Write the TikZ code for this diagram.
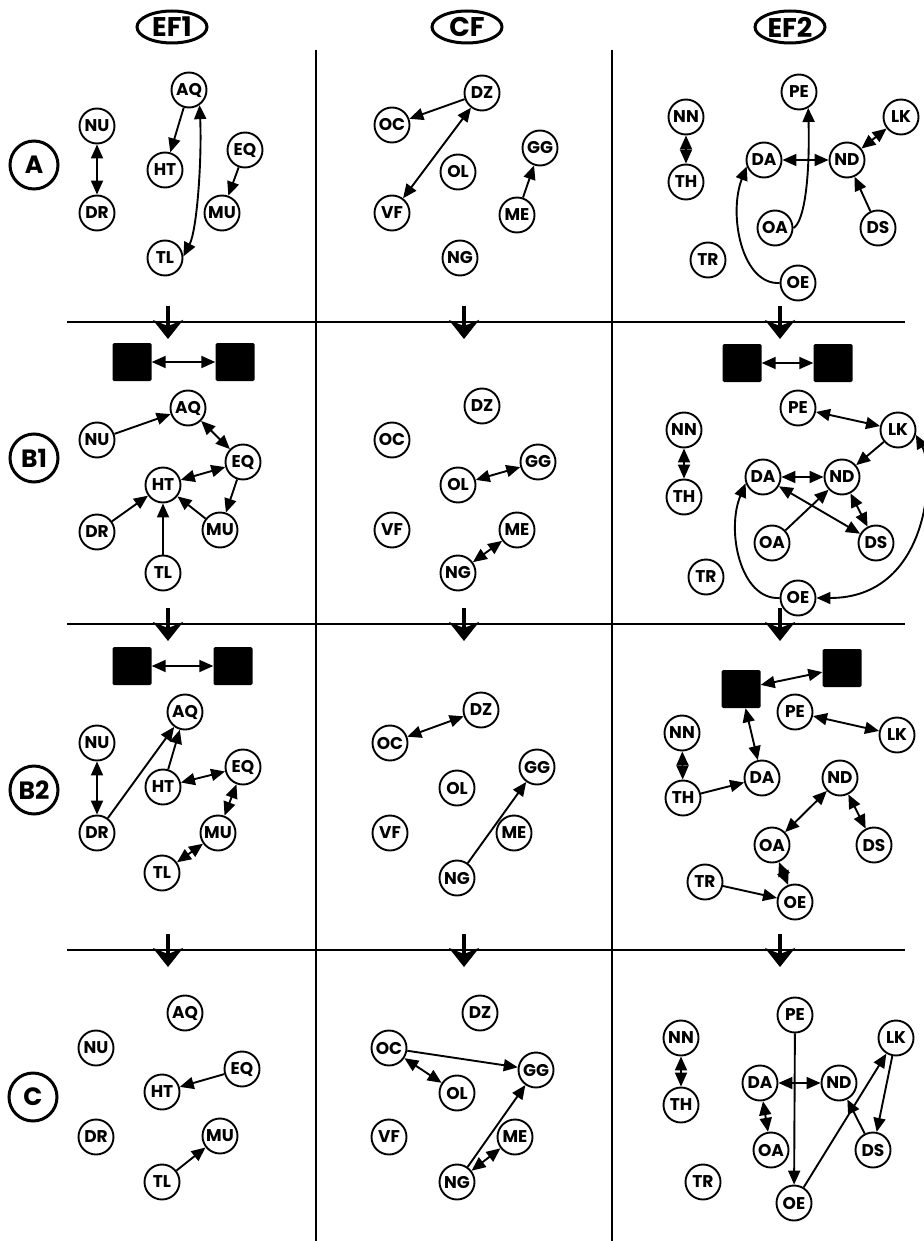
\documentclass[tikz,border=0pt]{standalone}
\usepackage{fontspec}
\setmainfont{Poppins}
\usetikzlibrary{arrows.meta,shapes.geometric}

\begin{document}
\begin{tikzpicture}[x=1pt, y=-1pt,
  stn/.style={circle, draw, line width=1.9pt, minimum size=35pt, inner sep=0pt,
    font=\bfseries\fontsize{17}{17}\selectfont},
  blk/.style={rectangle, fill=black, minimum width=39pt, minimum height=38pt,
    inner sep=0pt, rounded corners=1.5pt},
  hdr/.style={ellipse, draw, line width=3pt, minimum width=70pt, minimum height=32pt,
    inner sep=0pt, font=\bfseries\fontsize{27}{27}\selectfont},
  rowlbl/.style={circle, draw, line width=3pt, minimum size=48pt, inner sep=0pt,
    font=\bfseries\fontsize{25}{25}\selectfont},
  uni/.style={line width=1.9pt, -{Triangle[length=14pt,width=12pt]}},
  bi/.style={line width=1.9pt, {Triangle[length=14pt,width=12pt]}-{Triangle[length=14pt,width=12pt]}},
  sepline/.style={line width=1.9pt},
  dn/.style={line width=4.5pt, -{Stealth[length=19pt,width=30pt,inset=6pt]}},
]
\useasboundingbox (0,0) rectangle (923,1241);

% ---------- column headers and row labels ----------
\node[hdr] (hEF1) at (172,27) {EF1};
\node[hdr] (hCF)  at (467,27) {CF};
\node[hdr] (hEF2) at (790,27) {EF2};

\node[rowlbl] (rA)  at (34,165)  {A};
\node[rowlbl] (rB1) at (34,458)  {B1};
\node[rowlbl] (rB2) at (34,790)  {B2};
\node[rowlbl] (rC)  at (33,1097) {C};

% ---------- separating lines ----------
\coordinate (v1t) at (316,50);  \coordinate (v1b) at (316,1241);
\coordinate (v2t) at (612,50);  \coordinate (v2b) at (612,1241);
\draw[sepline] (v1t) -- (v1b);
\draw[sepline] (v2t) -- (v2b);
\foreach \yy in {322,624,950} {
  \draw[sepline] (67,\yy) -- (905,\yy);
  \foreach \xx in {168,464,780}
    \draw[dn] (\xx,\yy-16) -- (\xx,\yy+17);
}

% ================= row A =================
% EF1
\node[stn] (a1NU) at (97,126) {NU};
\node[stn] (a1DR) at (97,213) {DR};
\node[stn] (a1AQ) at (189,90) {AQ};
\node[stn] (a1HT) at (165,170) {HT};
\node[stn] (a1EQ) at (245,150) {EQ};
\node[stn] (a1MU) at (222,213) {MU};
\node[stn] (a1TL) at (165,258) {TL};
\draw[bi]  (a1NU) -- (a1DR);
\draw[uni] (a1AQ) -- (a1HT);
\draw[bi]  (a1AQ.-55) .. controls (202,160) and (197,230) .. (a1TL.5);
\draw[uni] (a1EQ) -- (a1MU);
% CF
\node[stn] (a2DZ) at (482,93) {DZ};
\node[stn] (a2OC) at (392,125) {OC};
\node[stn] (a2OL) at (458,172) {OL};
\node[stn] (a2GG) at (540,148) {GG};
\node[stn] (a2VF) at (392,213) {VF};
\node[stn] (a2ME) at (517,215) {ME};
\node[stn] (a2NG) at (460,258) {NG};
\draw[uni] (a2DZ) -- (a2OC);
\draw[bi]  (a2DZ) -- (a2VF);
\draw[uni] (a2ME) -- (a2GG);
% EF2
\node[stn] (a3PE) at (799,92) {PE};
\node[stn] (a3NN) at (686,117) {NN};
\node[stn] (a3LK) at (901,117) {LK};
\node[stn] (a3DA) at (764,160) {DA};
\node[stn] (a3ND) at (847,160) {ND};
\node[stn] (a3TH) at (686,182) {TH};
\node[stn] (a3OA) at (775,228) {OA};
\node[stn] (a3DS) at (878,228) {DS};
\node[stn] (a3TR) at (708,260) {TR};
\node[stn] (a3OE) at (798,283) {OE};
\draw[bi]  (a3NN) -- (a3TH);
\draw[bi]  (a3DA) -- (a3ND);
\draw[bi]  (a3ND) -- (a3LK);
\draw[uni] (a3DS) -- (a3ND);
\draw[uni] (a3OA.east) .. controls (804,222) and (810,180) .. (a3PE.-60);
\draw[uni] (a3OE.west) .. controls (742,285) and (728,215) .. (a3DA.200);

% ================= row B1 =================
% EF1
\node[blk] (b1sqL) at (132,362) {};
\node[blk] (b1sqR) at (235,362) {};
\draw[bi] (b1sqL) -- (b1sqR);
\node[stn] (b1NU) at (97,440) {NU};
\node[stn] (b1AQ) at (188,408) {AQ};
\node[stn] (b1EQ) at (243,462) {EQ};
\node[stn] (b1HT) at (163,485) {HT};
\node[stn] (b1DR) at (97,532) {DR};
\node[stn] (b1MU) at (220,530) {MU};
\node[stn] (b1TL) at (163,573) {TL};
\draw[uni] (b1NU) -- (b1AQ);
\draw[bi]  (b1AQ) -- (b1EQ);
\draw[bi]  (b1EQ) -- (b1HT);
\draw[uni] (b1EQ) -- (b1MU);
\draw[uni] (b1DR) -- (b1HT);
\draw[uni] (b1TL) -- (b1HT);
\draw[uni] (b1MU) -- (b1HT);
% CF
\node[stn] (b2DZ) at (482,406) {DZ};
\node[stn] (b2OC) at (392,440) {OC};
\node[stn] (b2GG) at (538,462) {GG};
\node[stn] (b2OL) at (458,485) {OL};
\node[stn] (b2VF) at (392,530) {VF};
\node[stn] (b2ME) at (517,530) {ME};
\node[stn] (b2NG) at (458,573) {NG};
\draw[bi] (b2OL) -- (b2GG);
\draw[bi] (b2NG) -- (b2ME);
% EF2
\node[blk] (b3sqL) at (742,363) {};
\node[blk] (b3sqR) at (833,363) {};
\draw[bi] (b3sqL) -- (b3sqR);
\node[stn] (b3PE) at (798,408) {PE};
\node[stn] (b3LK) at (898,430) {LK};
\node[stn] (b3NN) at (684,430) {NN};
\node[stn] (b3DA) at (763,477) {DA};
\node[stn] (b3ND) at (842,477) {ND};
\node[stn] (b3TH) at (684,497) {TH};
\node[stn] (b3OA) at (772,543) {OA};
\node[stn] (b3DS) at (876,543) {DS};
\node[stn] (b3TR) at (706,577) {TR};
\node[stn] (b3OE) at (798,598) {OE};
\draw[bi]  (b3PE) -- (b3LK);
\draw[uni] (b3LK) -- (b3ND);
\draw[bi]  (b3DA) -- (b3ND);
\draw[uni] (b3OA) -- (b3ND);
\draw[bi]  (b3DA) -- (b3DS);
\draw[bi]  (b3ND) -- (b3DS);
\draw[bi]  (b3NN) -- (b3TH);
\draw[uni] (b3OE.west) .. controls (740,600) and (726,530) .. (b3DA.200);
\draw[bi]  (b3LK.-15) .. controls (935,470) and (930,598) .. (b3OE.east);

% ================= row B2 =================
% EF1
\node[blk] (c1sqL) at (132,666) {};
\node[blk] (c1sqR) at (233,666) {};
\draw[bi] (c1sqL) -- (c1sqR);
\node[stn] (c1AQ) at (185,712) {AQ};
\node[stn] (c1NU) at (97,743) {NU};
\node[stn] (c1EQ) at (243,767) {EQ};
\node[stn] (c1HT) at (163,787) {HT};
\node[stn] (c1DR) at (97,833) {DR};
\node[stn] (c1MU) at (218,833) {MU};
\node[stn] (c1TL) at (162,873) {TL};
\draw[bi]  (c1NU) -- (c1DR);
\draw[uni] (c1DR) -- (c1AQ);
\draw[uni] (c1HT) -- (c1AQ);
\draw[bi]  (c1HT) -- (c1EQ);
\draw[bi]  (c1EQ) -- (c1MU);
\draw[bi]  (c1MU) -- (c1TL);
% CF
\node[stn] (c2DZ) at (481,710) {DZ};
\node[stn] (c2OC) at (390,743) {OC};
\node[stn] (c2GG) at (537,767) {GG};
\node[stn] (c2OL) at (457,788) {OL};
\node[stn] (c2VF) at (390,833) {VF};
\node[stn] (c2ME) at (514,833) {ME};
\node[stn] (c2NG) at (457,878) {NG};
\draw[bi]  (c2OC) -- (c2DZ);
\draw[uni] (c2NG) -- (c2GG);
% EF2
\node[blk] (c3sqL) at (741,689) {};
\node[blk] (c3sqR) at (842,668) {};
\node[stn] (c3PE) at (795,712) {PE};
\node[stn] (c3LK) at (897,735) {LK};
\node[stn] (c3NN) at (682,733) {NN};
\node[stn] (c3DA) at (762,778) {DA};
\node[stn] (c3ND) at (840,778) {ND};
\node[stn] (c3TH) at (683,798) {TH};
\node[stn] (c3OA) at (772,845) {OA};
\node[stn] (c3DS) at (874,845) {DS};
\node[stn] (c3TR) at (705,882) {TR};
\node[stn] (c3OE) at (795,902) {OE};
\draw[bi]  (c3sqL) -- (c3sqR);
\draw[bi]  (c3sqL) -- (c3DA);
\draw[bi]  (c3PE) -- (c3LK);
\draw[bi]  (c3NN) -- (c3TH);
\draw[uni] (c3TH) -- (c3DA);
\draw[bi]  (c3ND) -- (c3OA);
\draw[bi]  (c3ND) -- (c3DS);
\draw[bi]  (c3OA) -- (c3OE);
\draw[uni] (c3TR) -- (c3OE);

% ================= row C =================
% EF1
\node[stn] (d1AQ) at (185,1013) {AQ};
\node[stn] (d1NU) at (96,1048) {NU};
\node[stn] (d1EQ) at (242,1069) {EQ};
\node[stn] (d1HT) at (162,1092) {HT};
\node[stn] (d1DR) at (96,1137) {DR};
\node[stn] (d1MU) at (220,1136) {MU};
\node[stn] (d1TL) at (162,1182) {TL};
\draw[uni] (d1EQ) -- (d1HT);
\draw[uni] (d1TL) -- (d1MU);
% CF
\node[stn] (d2DZ) at (480,1013) {DZ};
\node[stn] (d2OC) at (389,1048) {OC};
\node[stn] (d2GG) at (536,1070) {GG};
\node[stn] (d2OL) at (457,1093) {OL};
\node[stn] (d2VF) at (389,1137) {VF};
\node[stn] (d2ME) at (515,1137) {ME};
\node[stn] (d2NG) at (457,1182) {NG};
\draw[uni] (d2OC) -- (d2GG);
\draw[bi]  (d2OC) -- (d2OL);
\draw[uni] (d2NG) -- (d2GG);
\draw[bi]  (d2NG) -- (d2ME);
% EF2
\node[stn] (d3PE) at (795,1015) {PE};
\node[stn] (d3NN) at (681,1038) {NN};
\node[stn] (d3LK) at (896,1038) {LK};
\node[stn] (d3DA) at (760,1083) {DA};
\node[stn] (d3ND) at (839,1083) {ND};
\node[stn] (d3TH) at (681,1105) {TH};
\node[stn] (d3OA) at (771,1150) {OA};
\node[stn] (d3DS) at (873,1150) {DS};
\node[stn] (d3TR) at (703,1182) {TR};
\node[stn] (d3OE) at (794,1203) {OE};
\draw[bi]  (d3NN) -- (d3TH);
\draw[bi]  (d3DA) -- (d3ND);
\draw[bi]  (d3DA) -- (d3OA);
\draw[uni] (d3PE) -- (d3OE);
\draw[uni] (d3OE) -- (d3LK);
\draw[uni] (d3DS) -- (d3ND);
\draw[uni] (d3LK) -- (d3DS);
\end{tikzpicture}
\end{document}
